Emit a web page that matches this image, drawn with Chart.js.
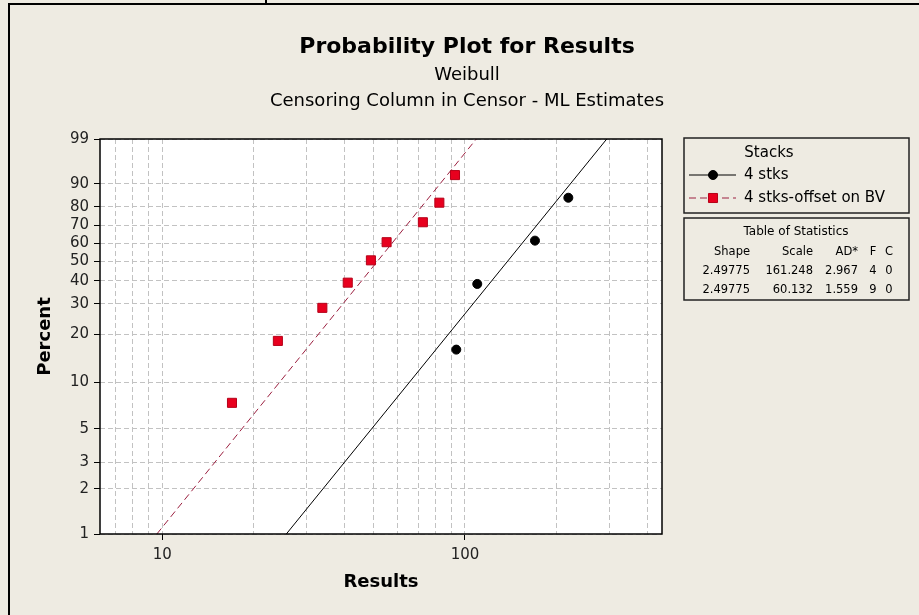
<!DOCTYPE html>
<html>
<head>
<meta charset="utf-8">
<title>Probability Plot for Results</title>
<script src="https://cdn.jsdelivr.net/npm/chart.js@4.4.0/dist/chart.umd.min.js"></script>
<style>
  html, body { margin: 0; padding: 0; background: #eeebe2; }
  #plot { display: block; }
</style>
</head>
<body>
<canvas id="plot" width="919" height="615"></canvas>
<script>
// Values (Results on log scale, Percent on Weibull scale)
const stkResults = [93.6, 109.8, 170.3, 219.5];
const stkPercent = [16.1, 38.5, 61.4, 84.3];
const offsetResults = [17.0, 24.1, 33.8, 41.0, 48.9, 55.1, 72.6, 82.3, 92.7];
const offsetPercent = [7.4, 18.2, 28.5, 39.1, 50.4, 60.5, 71.8, 82.0, 92.8];

// Fitted lines, end points at 1% and 99%
const fitPercent = [1, 99];
const stkFitResults = [25.7, 294];
const offsetFitResults = [9.6, 109];

// Axis ticks
const percentTicks = [1, 2, 3, 5, 10, 20, 30, 40, 50, 60, 70, 80, 90, 99];
const resultTicks = [7, 8, 9, 10, 20, 30, 40, 50, 60, 70, 80, 90, 100, 200, 300, 400];
const resultLabels = [10, 100];

// Legend and table of statistics
const seriesNames = ['4 stks', '4 stks-offset on BV'];
const statHeaders = ['Shape', 'Scale', 'AD*', 'F', 'C'];
const statShape = ['2.49775', '2.49775'];
const statScale = ['161.248', '60.132'];
const statAD = ['2.967', '1.559'];
const statF = ['4', '9'];
const statC = ['0', '0'];

const FONT = '"DejaVu Sans", Verdana, sans-serif';
const BG = '#eeebe2';

// Weibull probability paper: y = ln(-ln(1 - p))
function weibullY(p) {
    return Math.log(-Math.log(1 - p / 100));
}

function toPoints(xs, ps) {
    return xs.map((x, i) => ({ x: x, y: weibullY(ps[i]) }));
}

const stkStyle = { pointStyle: 'circle', radius: 4.5, fill: '#000000', stroke: '#000000' };
const offsetStyle = { pointStyle: 'rect', radius: 6.4, fill: '#e8001e', stroke: '#b50018' };
const offsetLine = { color: '#9c2040', dash: [7, 4] };

// Background, frame, titles, legend box and statistics table
const decor = {
    id: 'decor',
    beforeDraw(chart) {
        const { ctx, chartArea: a } = chart;
        ctx.save();
        ctx.fillStyle = BG;
        ctx.fillRect(0, 0, chart.width, chart.height);
        ctx.fillStyle = '#ffffff';
        ctx.fillRect(a.left, a.top, a.right - a.left, a.bottom - a.top);
        ctx.strokeStyle = '#000';
        ctx.lineWidth = 2;
        ctx.beginPath();
        ctx.moveTo(9, chart.height);
        ctx.lineTo(9, 4);
        ctx.lineTo(chart.width, 4);
        ctx.moveTo(266, 0);
        ctx.lineTo(266, 4);
        ctx.stroke();
        ctx.restore();
    },
    afterDraw(chart) {
        const { ctx, chartArea: a } = chart;
        ctx.save();

        // plot frame
        ctx.strokeStyle = '#000';
        ctx.lineWidth = 1.5;
        ctx.strokeRect(a.left, a.top, a.right - a.left, a.bottom - a.top);

        // titles
        ctx.fillStyle = '#000';
        ctx.textAlign = 'center';
        ctx.textBaseline = 'middle';
        ctx.font = 'bold 22px ' + FONT;
        ctx.fillText('Probability Plot for Results', 467, 47);
        ctx.font = '18px ' + FONT;
        ctx.fillText('Weibull', 467, 75);
        ctx.fillText('Censoring Column in Censor - ML Estimates', 467, 101);

        // legend box
        ctx.lineWidth = 1.5;
        ctx.strokeStyle = '#222';
        ctx.strokeRect(684, 138, 225, 75);
        ctx.font = '15px ' + FONT;
        ctx.fillText('Stacks', 769, 153);
        const rowY = [175, 198];
        const styles = [stkStyle, offsetStyle];
        rowY.forEach((y, i) => {
            ctx.lineWidth = 1;
            ctx.strokeStyle = i === 0 ? '#000' : offsetLine.color;
            ctx.setLineDash(i === 0 ? [] : offsetLine.dash);
            ctx.beginPath();
            ctx.moveTo(689, y);
            ctx.lineTo(736, y);
            ctx.stroke();
            ctx.setLineDash([]);
            ctx.fillStyle = styles[i].fill;
            ctx.strokeStyle = styles[i].stroke;
            Chart.helpers.drawPoint(ctx, { pointStyle: styles[i].pointStyle, radius: styles[i].radius, borderWidth: 1 }, 713, y);
            ctx.fillStyle = '#000';
            ctx.textAlign = 'left';
            ctx.fillText(seriesNames[i], 744, y);
        });

        // table of statistics
        ctx.strokeStyle = '#222';
        ctx.lineWidth = 1.5;
        ctx.strokeRect(684, 218, 225, 82);
        ctx.textAlign = 'center';
        ctx.font = '12px ' + FONT;
        ctx.fillText('Table of Statistics', 796, 232);
        ctx.font = '11.5px ' + FONT;
        const cols = [
            { x: 750, align: 'right', values: statShape },
            { x: 813, align: 'right', values: statScale },
            { x: 858, align: 'right', values: statAD },
            { x: 873, align: 'center', values: statF },
            { x: 889, align: 'center', values: statC }
        ];
        cols.forEach((col, i) => {
            ctx.textAlign = col.align;
            ctx.fillText(statHeaders[i], col.x, 252);
            col.values.forEach((v, r) => ctx.fillText(v, col.x, 271 + r * 19));
        });

        ctx.restore();
    }
};

const tickFont = { family: FONT, size: 15 };
const axisTitleFont = { family: FONT, size: 18, weight: 'bold' };

new Chart(document.getElementById('plot'), {
    type: 'scatter',
    data: {
        datasets: [
            {
                label: seriesNames[0],
                data: toPoints(stkResults, stkPercent),
                pointStyle: stkStyle.pointStyle,
                pointRadius: stkStyle.radius,
                backgroundColor: stkStyle.fill,
                borderColor: stkStyle.stroke,
                borderWidth: 1
            },
            {
                label: seriesNames[1],
                data: toPoints(offsetResults, offsetPercent),
                pointStyle: offsetStyle.pointStyle,
                pointRadius: offsetStyle.radius,
                backgroundColor: offsetStyle.fill,
                borderColor: offsetStyle.stroke,
                borderWidth: 1
            },
            {
                label: seriesNames[0] + ' fit',
                data: toPoints(stkFitResults, fitPercent),
                showLine: true,
                pointRadius: 0,
                borderColor: '#000000',
                borderWidth: 1
            },
            {
                label: seriesNames[1] + ' fit',
                data: toPoints(offsetFitResults, fitPercent),
                showLine: true,
                pointRadius: 0,
                borderColor: offsetLine.color,
                borderDash: offsetLine.dash,
                borderWidth: 1
            }
        ]
    },
    options: {
        responsive: false,
        animation: false,
        events: [],
        devicePixelRatio: 1,
        layout: { padding: { top: 139, right: 257, bottom: 0, left: 0 } },
        plugins: {
            legend: { display: false },
            tooltip: { enabled: false }
        },
        scales: {
            x: {
                type: 'logarithmic',
                bounds: 'data',
                min: 6.23,
                max: 447.5,
                afterBuildTicks: scale => { scale.ticks = resultTicks.map(v => ({ value: v })); },
                afterFit: scale => { scale.height = 81; },
                ticks: {
                    autoSkip: false,
                    maxRotation: 0,
                    padding: 6,
                    color: '#222',
                    font: tickFont,
                    callback: v => resultLabels.includes(v) ? String(v) : ''
                },
                grid: {
                    color: '#c2c2c2',
                    tickLength: 6,
                    tickWidth: 1,
                    tickColor: c => (c.tick && resultLabels.includes(c.tick.value)) ? '#000' : 'rgba(0,0,0,0)'
                },
                border: { display: false, dash: [5, 3] },
                title: { display: true, text: 'Results', color: '#000', font: axisTitleFont, padding: { top: 4, bottom: 22 } }
            },
            y: {
                type: 'linear',
                bounds: 'data',
                min: weibullY(1),
                max: weibullY(99),
                afterBuildTicks: scale => { scale.ticks = percentTicks.map(p => ({ value: weibullY(p) })); },
                afterFit: scale => { scale.width = 100; },
                ticks: {
                    autoSkip: false,
                    padding: 5,
                    color: '#222',
                    font: tickFont,
                    callback: (v, i) => String(percentTicks[i])
                },
                grid: { color: '#c2c2c2', tickLength: 6, tickWidth: 1, tickColor: '#000' },
                border: { display: false, dash: [5, 3] },
                title: { display: true, text: 'Percent', color: '#000', font: axisTitleFont, padding: { top: 35, bottom: 0 } }
            }
        }
    },
    plugins: [decor]
});
</script>
</body>
</html>
